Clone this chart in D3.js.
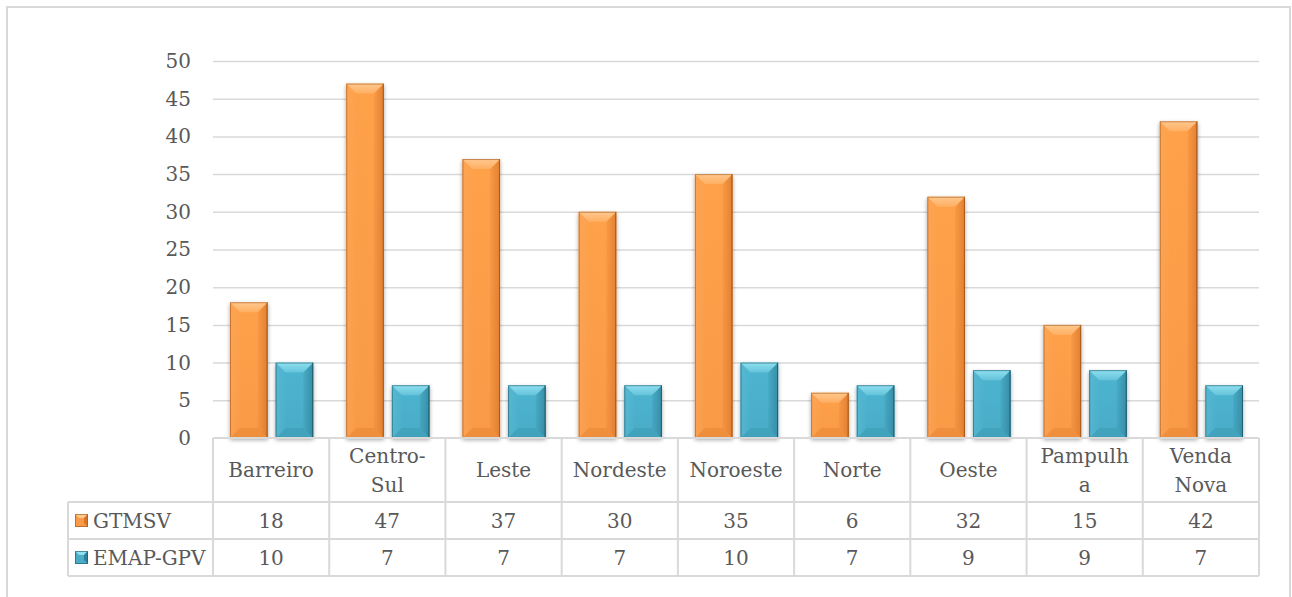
<!DOCTYPE html>
<html>
<head>
<meta charset="utf-8">
<script src="https://cdn.jsdelivr.net/npm/d3@7"></script>
<style>
  html, body { margin: 0; padding: 0; background: #ffffff; }
  svg { display: block; }
  text { font-family: "DejaVu Serif", "Liberation Serif", serif; fill: #595959; }
</style>
</head>
<body>
<svg id="chart" width="1292" height="597"></svg>
<script>
// ---------- data ----------
const categories = ["Barreiro", "Centro-Sul", "Leste", "Nordeste", "Noroeste", "Norte", "Oeste", "Pampulha", "Venda Nova"];
const categoryLabelLines = [["Barreiro"], ["Centro-", "Sul"], ["Leste"], ["Nordeste"], ["Noroeste"], ["Norte"], ["Oeste"], ["Pampulh", "a"], ["Venda", "Nova"]];
const seriesNames = ["GTMSV", "EMAP-GPV"];
const gtmsvValues = [18, 47, 37, 30, 35, 6, 32, 15, 42];
const emapGpvValues = [10, 7, 7, 7, 10, 7, 9, 9, 7];
const yTicks = [0, 5, 10, 15, 20, 25, 30, 35, 40, 45, 50];

// ---------- styles ----------
const seriesStyles = [
  { face: "#F99A47", top: "#FFC88E", bottom: "#E2802C", left: "#FBA65A", right: "#D9752A", stroke: "#9C5415" },
  { face: "#4AACC7", top: "#8FE0F0", bottom: "#3893AC", left: "#5BBBD4", right: "#2F8199", stroke: "#1C5565" }
];
const fontSize = 20;

const svg = d3.select("#chart");

// outer chart border
svg.append("rect").attr("x", 7).attr("y", 7).attr("width", 1283).attr("height", 620)
  .attr("fill", "#fff").attr("stroke", "#d9d9d9").attr("stroke-width", 2);

const plotLeft = 213, plotRight = 1259, plotTop = 61, plotBottom = 438;

const x0 = d3.scaleBand().domain(categories).range([plotLeft, plotRight]).padding(0);
const x1 = d3.scaleBand().domain(seriesNames).range([17, x0.bandwidth() - 16]).paddingInner(0.176).paddingOuter(0);
const y = d3.scaleLinear().domain([0, 50]).range([plotBottom, plotTop]);

// gridlines
const grid = svg.append("g").attr("transform", `translate(${plotLeft},0)`)
  .call(d3.axisLeft(y).tickValues(yTicks.filter(t => t > 0)).tickSize(-(plotRight - plotLeft)).tickFormat(""));
grid.select(".domain").remove();
grid.selectAll("line").attr("stroke", "#d9d9d9").attr("stroke-width", 1.5);

// y axis labels
const yAxis = svg.append("g").attr("transform", `translate(${plotLeft},0)`)
  .call(d3.axisLeft(y).tickValues(yTicks).tickSize(0).tickPadding(22));
yAxis.select(".domain").remove();
yAxis.selectAll("text").attr("font-size", fontSize).attr("font-family", "DejaVu Serif, serif").attr("fill", "#595959");

// shadow filter
const defs = svg.append("defs");
const f = defs.append("filter").attr("id", "shadow").attr("x", "-20%").attr("y", "-20%").attr("width", "140%").attr("height", "140%");
f.append("feGaussianBlur").attr("in", "SourceAlpha").attr("stdDeviation", 2).attr("result", "blur");
f.append("feOffset").attr("in", "blur").attr("dx", 0).attr("dy", 2).attr("result", "off");
f.append("feComponentTransfer").attr("in", "off").attr("result", "sh")
  .append("feFuncA").attr("type", "linear").attr("slope", 0.35);
const fm = f.append("feMerge");
fm.append("feMergeNode").attr("in", "sh");
fm.append("feMergeNode").attr("in", "SourceGraphic");

seriesStyles.forEach((s, i) => {
  const g = defs.append("linearGradient").attr("id", "face" + i).attr("x1", 0).attr("x2", 0).attr("y1", 0).attr("y2", 1);
  g.append("stop").attr("offset", "0%").attr("stop-color", d3.color(s.face).brighter(0.12));
  g.append("stop").attr("offset", "100%").attr("stop-color", s.face);
  const t = defs.append("linearGradient").attr("id", "top" + i).attr("x1", 0).attr("x2", 0).attr("y1", 0).attr("y2", 1);
  t.append("stop").attr("offset", "0%").attr("stop-color", s.top).attr("stop-opacity", 1);
  t.append("stop").attr("offset", "100%").attr("stop-color", s.top).attr("stop-opacity", 0.35);
  const r = defs.append("linearGradient").attr("id", "right" + i).attr("x1", 0).attr("x2", 1).attr("y1", 0).attr("y2", 0);
  r.append("stop").attr("offset", "0%").attr("stop-color", s.right).attr("stop-opacity", 0.15);
  r.append("stop").attr("offset", "100%").attr("stop-color", s.right).attr("stop-opacity", 0.75);
  const l = defs.append("linearGradient").attr("id", "left" + i).attr("x1", 0).attr("x2", 1).attr("y1", 0).attr("y2", 0);
  l.append("stop").attr("offset", "0%").attr("stop-color", s.left).attr("stop-opacity", 0.6);
  l.append("stop").attr("offset", "100%").attr("stop-color", s.left).attr("stop-opacity", 0.1);
});

function bevelBar(g, x, yTop, w, h, s, i) {
  const b = Math.min(10, h / 2.2, w / 3);
  const grp = g.append("g").attr("filter", "url(#shadow)");
  grp.append("rect").attr("x", x).attr("y", yTop).attr("width", w).attr("height", h).attr("fill", `url(#face${i})`);
  const x2 = x + w, y2 = yTop + h;
  const poly = (pts, fill, op) => grp.append("polygon").attr("points", pts.map(p => p.join(",")).join(" ")).attr("fill", fill).attr("opacity", op);
  poly([[x, y2], [x2, y2], [x2 - b, y2 - b], [x + b, y2 - b]], s.bottom, 0.4);
  poly([[x, yTop], [x + b, yTop + b], [x + b, y2 - b], [x, y2]], `url(#left${i})`, 1);
  poly([[x2, yTop], [x2 - b, yTop + b], [x2 - b, y2 - b], [x2, y2]], `url(#right${i})`, 1);
  poly([[x, yTop], [x2, yTop], [x2 - b, yTop + b], [x + b, yTop + b]], `url(#top${i})`, 1);
  grp.append("rect").attr("x", x + 0.5).attr("y", yTop + 0.5).attr("width", w - 1).attr("height", h - 1)
    .attr("fill", "none").attr("stroke", s.stroke).attr("stroke-width", 1).attr("opacity", 0.55);
  grp.append("line").attr("x1", x2 - 0.5).attr("x2", x2 - 0.5).attr("y1", yTop).attr("y2", y2)
    .attr("stroke", s.stroke).attr("stroke-width", 1).attr("opacity", 0.6);
}

const seriesValues = [gtmsvValues, emapGpvValues];
const bars = svg.append("g");
categories.forEach((c, ci) => {
  seriesNames.forEach((sn, si) => {
    const v = seriesValues[si][ci];
    const bx = x0(c) + x1(sn);
    bevelBar(bars, bx, y(v), x1.bandwidth(), y(0) - y(v), seriesStyles[si], si);
  });
});

// ---------- data table ----------
const tableLeft = 68;
const headerTop = plotBottom, headerBottom = 502, row1Bottom = 539, row2Bottom = 576;
const rowBottoms = [row1Bottom, row2Bottom];
const table = svg.append("g").attr("stroke", "#d9d9d9").attr("stroke-width", 2).attr("fill", "none");
table.append("line").attr("x1", plotLeft).attr("x2", plotRight).attr("y1", headerTop).attr("y2", headerTop);
table.append("line").attr("x1", tableLeft).attr("x2", plotRight).attr("y1", headerBottom).attr("y2", headerBottom);
table.append("line").attr("x1", tableLeft).attr("x2", plotRight).attr("y1", row1Bottom).attr("y2", row1Bottom);
table.append("line").attr("x1", tableLeft).attr("x2", plotRight).attr("y1", row2Bottom).attr("y2", row2Bottom);
table.append("line").attr("x1", tableLeft).attr("x2", tableLeft).attr("y1", headerBottom).attr("y2", row2Bottom);
categories.forEach(c => {
  table.append("line").attr("x1", x0(c)).attr("x2", x0(c)).attr("y1", headerTop).attr("y2", row2Bottom);
});
table.append("line").attr("x1", plotRight).attr("x2", plotRight).attr("y1", headerTop).attr("y2", row2Bottom);

// header labels
const headerMid = (headerTop + headerBottom) / 2;
categories.forEach((c, ci) => {
  const lines = categoryLabelLines[ci];
  const lh = 29;
  const t = svg.append("text").attr("text-anchor", "middle").attr("font-size", fontSize)
    .attr("x", x0(c) + x0.bandwidth() / 2);
  lines.forEach((ln, li) => {
    t.append("tspan").attr("x", x0(c) + x0.bandwidth() / 2)
      .attr("y", headerMid + (li - (lines.length - 1) / 2) * lh).attr("dy", "0.35em").text(ln);
  });
});

// value rows and legend
seriesNames.forEach((sn, si) => {
  const top = si === 0 ? headerBottom : row1Bottom;
  const mid = (top + rowBottoms[si]) / 2;
  seriesValues[si].forEach((v, ci) => {
    svg.append("text").attr("text-anchor", "middle").attr("font-size", fontSize)
      .attr("x", x0(categories[ci]) + x0.bandwidth() / 2).attr("y", mid).attr("dy", "0.35em").text(v);
  });
  const kx = 75, ks = 13, ky = mid - ks / 2;
  const kg = svg.append("g");
  const s = seriesStyles[si];
  kg.append("rect").attr("x", kx).attr("y", ky).attr("width", ks).attr("height", ks).attr("fill", s.face);
  const b = 4;
  const pts = (arr) => arr.map(p => p.join(",")).join(" ");
  kg.append("polygon").attr("points", pts([[kx, ky], [kx + ks, ky], [kx + ks - b, ky + b], [kx + b, ky + b]])).attr("fill", s.top);
  kg.append("polygon").attr("points", pts([[kx + ks, ky], [kx + ks, ky + ks], [kx + ks - b, ky + ks - b], [kx + ks - b, ky + b]])).attr("fill", s.right);
  kg.append("rect").attr("x", kx + 0.5).attr("y", ky + 0.5).attr("width", ks - 1).attr("height", ks - 1).attr("fill", "none").attr("stroke", s.stroke).attr("opacity", 0.6);
  svg.append("text").attr("x", 93).attr("y", mid).attr("dy", "0.35em").attr("font-size", fontSize).text(sn);
});
</script>
</body>
</html>
